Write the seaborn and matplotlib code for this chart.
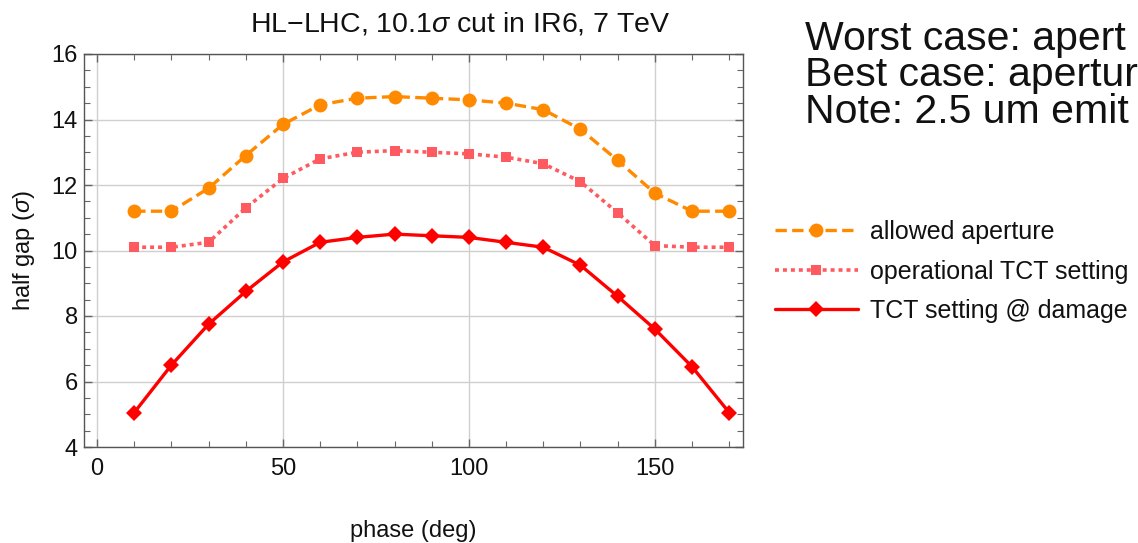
import numpy as np
import pandas as pd
import matplotlib
matplotlib.use("Agg")
import matplotlib.pyplot as plt
from matplotlib.ticker import MultipleLocator
import seaborn as sns

phase = [10, 20, 30, 40, 50, 60, 70, 80, 90, 100, 110, 120, 130, 140, 150, 160, 170]
allowed_aperture = [11.2, 11.2, 11.9, 12.9, 13.85, 14.45, 14.65, 14.7, 14.65, 14.6, 14.5, 14.3, 13.7, 12.75, 11.75, 11.2, 11.2]
operational_tct = [10.1, 10.1, 10.25, 11.3, 12.2, 12.8, 13.0, 13.05, 13.0, 12.95, 12.85, 12.65, 12.1, 11.15, 10.15, 10.1, 10.1]
tct_damage = [5.05, 6.5, 7.75, 8.75, 9.65, 10.25, 10.4, 10.5, 10.45, 10.4, 10.25, 10.1, 9.55, 8.6, 7.6, 6.45, 5.05]
labels = ["allowed aperture", "operational TCT setting", "TCT setting @ damage"]
title = "HL\u2212LHC, 10.1$\\sigma$ cut in IR6, 7 TeV"
notes = ["Worst case: apert", "Best case: apertur", "Note: 2.5 um emit"]

sns.set_style("ticks")
plt.rcParams["font.family"] = ["Liberation Sans", "DejaVu Sans"]
plt.rcParams["mathtext.fontset"] = "custom"
plt.rcParams["mathtext.it"] = "Liberation Sans:italic"
plt.rcParams["mathtext.rm"] = "Liberation Sans"
plt.rcParams["text.color"] = "#111111"
plt.rcParams["axes.labelcolor"] = "#111111"
plt.rcParams["xtick.labelcolor"] = "#111111"
plt.rcParams["ytick.labelcolor"] = "#111111"

fig = plt.figure(figsize=(11.38, 5.43), dpi=100)
ax = fig.add_axes([84 / 1138, 1 - 447 / 543, (743 - 84) / 1138, (447 - 54) / 543])

df = pd.DataFrame({"phase": phase, "a": allowed_aperture, "b": operational_tct, "c": tct_damage})

sns.lineplot(data=df, x="phase", y="a", ax=ax, color="#FF8A00", marker="o", markersize=10,
             markeredgewidth=0, linestyle=(0, (3.4, 1.6)), linewidth=2.4, label=labels[0])
sns.lineplot(data=df, x="phase", y="b", ax=ax, color="#FF5A5F", marker="s", markersize=7,
             markeredgewidth=0, linestyle=(0, (1.1, 1.1)), linewidth=2.6, label=labels[1])
sns.lineplot(data=df, x="phase", y="c", ax=ax, color="#FF0000", marker="D", markersize=8,
             markeredgewidth=0, linestyle="-", linewidth=2.4, label=labels[2])

ax.set_xlim(-3.5, 173.7)
ax.set_ylim(4, 16)
ax.xaxis.set_major_locator(MultipleLocator(50))
ax.xaxis.set_minor_locator(MultipleLocator(10))
ax.yaxis.set_major_locator(MultipleLocator(2))
ax.yaxis.set_minor_locator(MultipleLocator(0.5))
ax.grid(True, which="major", color="#cfcfcf", linewidth=1.0)
ax.set_axisbelow(True)
ax.tick_params(which="both", direction="in", top=True, right=True, color="#666666",
               labelsize=17)
ax.tick_params(axis="x", pad=8)
ax.tick_params(axis="y", pad=4.5)
ax.tick_params(which="major", length=6, width=1)
ax.tick_params(which="minor", length=4, width=0.8)
for s in ax.spines.values():
    s.set_color("#555555")
    s.set_linewidth(1.0)

ax.set_xlabel("phase (deg)", fontsize=17, labelpad=29)
ax.set_ylabel("half gap ($\\sigma$)", fontsize=17, labelpad=10)
fig.text(460 / 1138, 1 - 24 / 543, title, fontsize=20.5, ha="center", va="center")

leg = ax.legend(loc="upper left", bbox_to_anchor=(775 / 1138, 1 - 220 / 543),
                bbox_transform=fig.transFigure, frameon=False, fontsize=18,
                handlelength=3.3, handletextpad=0.5, labelspacing=0.62, borderaxespad=0,
                borderpad=0)

for i, t in enumerate(notes):
    fig.text(805 / 1138, 1 - (50 + 36.5 * i) / 543, t, fontsize=29.5, va="baseline", ha="left")

fig.savefig("out.png", dpi=100)
